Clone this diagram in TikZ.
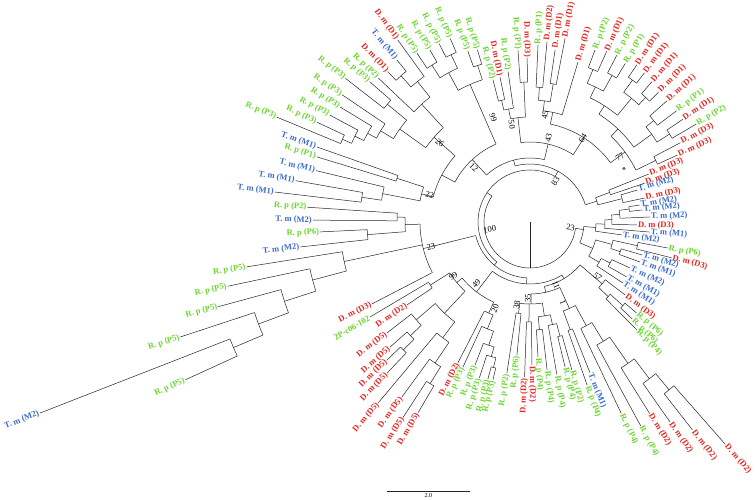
\documentclass[tikz,border=0pt]{standalone}
\usepackage{fontspec}
\setmainfont{Liberation Serif}
\usepackage{xcolor}
\usepackage{tikz}
\usetikzlibrary{calc}
\definecolor{dmred}{RGB}{226,38,32}
\definecolor{rpgreen}{RGB}{108,214,48}
\definecolor{tmblue}{RGB}{58,108,206}
\tikzset{
    br/.style={draw=black!85, line width=0.5pt},
    lbl/.style={font=\bfseries\fontsize{8.5}{9}\selectfont, inner sep=1pt},
    bsv/.style={font=\fontsize{8.5}{9}\selectfont, inner sep=0pt},
}
% leaf: angle, parent radius, tip radius, colour, text
\newcommand{\leafAt}[5]{%
    \draw[br] (#1:#2) -- (#1:#3);
    \pgfmathtruncatemacro{\leafside}{cos(#1)>=0}%
    \ifnum\leafside=1
        \node[lbl, text=#4, anchor=west, rotate=#1] at (#1:#3) {#5};
    \else
        \pgfmathsetmacro{\leafrot}{#1-180}%
        \node[lbl, text=#4, anchor=east, rotate=\leafrot] at (#1:#3) {#5};
    \fi}
% clade: first angle, last angle, radius, stem angle, parent radius
\newcommand{\cladeArc}[5]{%
    \draw[br] (#1:#3) arc[start angle=#1, end angle=#2, radius=#3];
    \draw[br] (#4:#5) -- (#4:#3);}
\newcommand{\leafDm}[4]{\leafAt{#1}{#2}{#3}{dmred}{D. m (D#4)}}
\newcommand{\leafRp}[4]{\leafAt{#1}{#2}{#3}{rpgreen}{R. p (P#4)}}
\newcommand{\leafTm}[4]{\leafAt{#1}{#2}{#3}{tmblue}{T. m (M#4)}}
% bootstrap value: angle, radius, text
\newcommand{\bootVal}[3]{%
    \pgfmathtruncatemacro{\bootside}{cos(#1)>=0}%
    \ifnum\bootside=1
        \node[bsv, rotate=#1] at (#1:#2) {#3};
    \else
        \pgfmathsetmacro{\bootrot}{#1-180}%
        \node[bsv, rotate=\bootrot] at (#1:#2) {#3};
    \fi}

\begin{document}
\begin{tikzpicture}[x=1pt, y=1pt]
    \fill[white] (-530,-278) rectangle (226,222);
    \useasboundingbox (-530,-278) rectangle (226,222);
    % root
    \draw[br] (0,0) -- (270:46);
    \draw[br] (145.75:46) arc[start angle=145.75, end angle=352, radius=46];
    \cladeArc{61.1}{230.4}{52}{145.75}{46}
    % right cluster (23)
    \cladeArc{-22.75}{-4.8}{54}{-8}{46}
    \cladeArc{-8}{-1.6}{66}{-4.8}{54}
    \leafTm{-8}{66}{93}{2}
    \cladeArc{-4.8}{1.65}{75}{-1.6}{66}
    \leafTm{-4.8}{75}{120}{1}
    \cladeArc{-1.6}{4.9}{82}{1.65}{75}
    \leafDm{-1.6}{82}{107}{3}
    \cladeArc{2.4}{7.45}{90}{4.9}{82}
    \leafTm{2.4}{90}{120}{2}
    \cladeArc{6.1}{8.8}{100}{7.45}{90}
    \leafTm{6.1}{100}{113}{2}
    \leafTm{8.8}{100}{111}{2}
    \cladeArc{-30.2}{-15.3}{68}{-22.75}{54}
    \cladeArc{-18.2}{-12.45}{85}{-15.3}{68}
    \cladeArc{-14.2}{-10.7}{110}{-12.45}{85}
    \leafRp{-10.7}{110}{140}{6}
    \leafDm{-14.2}{110}{146}{3}
    \cladeArc{-20}{-16.4}{95}{-18.2}{85}
    \leafTm{-16.4}{95}{117}{2}
    \leafTm{-20}{95}{117}{1}
    \cladeArc{-33.3}{-27.15}{80}{-30.2}{68}
    \leafTm{-33.3}{80}{111}{1}
    \cladeArc{-29.6}{-24.7}{90}{-27.15}{80}
    \leafTm{-24.7}{90}{110}{2}
    \leafTm{-29.6}{90}{111}{1}
    % top (83)
    \cladeArc{17.3}{104.9}{58}{61.1}{52}
    \cladeArc{14.2}{20.35}{70}{17.3}{58}
    \cladeArc{18.7}{22}{85}{20.35}{70}
    \leafDm{22}{85}{128}{3}
    \leafDm{18.7}{85}{121}{3}
    \cladeArc{11.8}{16.6}{95}{14.2}{70}
    \leafTm{16.6}{95}{112}{2}
    \leafDm{11.8}{95}{117}{3}
    \cladeArc{76.95}{132.8}{64}{104.9}{58}
    \cladeArc{57.3}{96.6}{80}{76.95}{64}
    \cladeArc{36.35}{78.25}{100}{57.3}{80}
    \cladeArc{26.1}{46.6}{118}{36.35}{100}
    \cladeArc{24.4}{27.8}{140}{26.1}{118}
    \leafDm{24.4}{140}{162}{3}
    \leafDm{27.8}{140}{170}{3}
    \cladeArc{35.8}{57.4}{128}{46.6}{118}
    \cladeArc{32.2}{39.35}{150}{35.8}{128}
    \cladeArc{30.5}{33.9}{165}{32.2}{150}
    \leafRp{30.5}{165}{193}{2}
    \leafDm{33.9}{165}{184}{1}
    \cladeArc{37.2}{41.5}{160}{39.35}{150}
    \leafRp{37.2}{160}{184}{1}
    \leafDm{41.5}{160}{183}{1}
    \cladeArc{50.65}{64.15}{138}{57.4}{128}
    \cladeArc{47.15}{54.15}{160}{50.65}{138}
    \cladeArc{45.3}{49}{170}{47.15}{160}
    \leafDm{45.3}{170}{183}{1}
    \leafDm{49}{170}{186}{1}
    \cladeArc{52.5}{55.8}{175}{54.15}{160}
    \leafDm{52.5}{175}{188}{1}
    \leafDm{55.8}{175}{190}{1}
    \cladeArc{60.75}{67.55}{150}{64.15}{138}
    \cladeArc{59}{62.5}{168}{60.75}{150}
    \leafRp{59}{168}{185}{1}
    \leafRp{62.5}{168}{188}{2}
    \cladeArc{65.8}{69.3}{165}{67.55}{150}
    \leafDm{65.8}{165}{187}{1}
    \leafRp{69.3}{165}{184}{2}
    \cladeArc{73.3}{83.2}{112}{78.25}{100}
    \leafDm{73.3}{112}{167}{1}
    \cladeArc{80.45}{86}{122}{83.2}{112}
    \cladeArc{79.2}{81.7}{140}{80.45}{122}
    \leafDm{79.2}{140}{187}{1}
    \leafDm{81.7}{140}{174}{1}
    \cladeArc{84.6}{87.4}{135}{86}{122}
    \leafDm{84.6}{135}{181}{2}
    \leafRp{87.4}{135}{177}{1}
    \cladeArc{92.5}{100.7}{105}{96.6}{80}
    \cladeArc{91}{94}{140}{92.5}{105}
    \leafDm{91}{140}{164}{3}
    \leafRp{94}{140}{172}{1}
    \cladeArc{98.3}{103.15}{115}{100.7}{105}
    \leafRp{98.3}{115}{152}{2}
    \cladeArc{101.7}{104.6}{125}{103.15}{115}
    \leafDm{101.7}{125}{148}{1}
    \leafRp{104.6}{125}{147}{2}
    % upper left (12)
    \cladeArc{113.55}{152}{85}{132.8}{64}
    \cladeArc{108.5}{118.6}{150}{113.55}{85}
    \cladeArc{107}{110}{165}{108.5}{150}
    \leafRp{107}{165}{180}{5}
    \leafRp{110}{165}{182}{5}
    \cladeArc{115.25}{122}{170}{118.6}{150}
    \cladeArc{113.5}{117}{185}{115.25}{170}
    \leafRp{113.5}{185}{200}{5}
    \leafRp{117}{185}{200}{5}
    \cladeArc{120.2}{123.8}{185}{122}{170}
    \leafRp{120.2}{185}{199}{5}
    \leafRp{123.8}{185}{203}{5}
    \cladeArc{138.55}{165.45}{100}{152}{85}
    \cladeArc{132.6}{144.5}{128}{138.55}{100}
    \cladeArc{128.7}{136.5}{160}{132.6}{128}
    \cladeArc{126}{131.4}{180}{128.7}{160}
    \leafDm{126}{180}{225}{1}
    \cladeArc{129.4}{133.4}{195}{131.4}{180}
    \leafTm{129.4}{195}{210}{1}
    \leafDm{133.4}{195}{207}{1}
    \leafRp{136.5}{160}{209}{2}
    \cladeArc{140.45}{148.6}{160}{144.5}{128}
    \cladeArc{138.8}{142.1}{185}{140.45}{160}
    \leafRp{138.8}{185}{213}{3}
    \leafRp{142.1}{185}{234}{3}
    \cladeArc{145.9}{151.35}{175}{148.6}{160}
    \leafRp{145.9}{175}{227}{3}
    \cladeArc{148.8}{153.9}{185}{151.35}{175}
    \leafRp{148.8}{185}{222}{3}
    \cladeArc{151.9}{156.2}{195}{153.9}{185}
    \leafRp{151.9}{195}{227}{3}
    \cladeArc{154.9}{157.5}{205}{156.2}{195}
    \leafRp{154.9}{205}{235}{3}
    \leafRp{157.5}{205}{274}{3}
    \cladeArc{161.8}{169.1}{112}{165.45}{100}
    \cladeArc{160.6}{163}{140}{161.8}{112}
    \leafTm{160.6}{140}{226}{1}
    \leafRp{163}{140}{223}{1}
    \cladeArc{166.5}{171.65}{150}{169.1}{112}
    \leafTm{166.5}{150}{220}{1}
    \cladeArc{170}{173.3}{170}{171.65}{150}
    \leafTm{170}{170}{238}{1}
    \leafTm{173.3}{170}{257}{1}
    % lower half
    \cladeArc{194}{266.8}{56}{230.4}{52}
    \cladeArc{181.15}{207.4}{110}{194}{56}
    \cladeArc{177.85}{184.45}{125}{181.15}{110}
    \cladeArc{176.2}{179.5}{133}{177.85}{125}
    \leafRp{176.2}{133}{223}{2}
    \leafTm{179.5}{133}{217}{2}
    \cladeArc{182.7}{186.2}{163}{184.45}{125}
    \leafRp{182.7}{163}{210}{6}
    \leafTm{186.2}{163}{231}{2}
    \cladeArc{189}{194.95}{190}{192}{110}
    \leafRp{189}{190}{287}{5}
    \cladeArc{192}{197.9}{225}{194.95}{190}
    \leafRp{192}{225}{309}{5}
    \cladeArc{195.2}{200.6}{258}{197.9}{225}
    \leafRp{195.2}{258}{323}{5}
    \cladeArc{198.2}{202.95}{290}{200.6}{258}
    \leafRp{198.2}{290}{368}{5}
    \cladeArc{201.3}{204.6}{322}{202.95}{290}
    \leafTm{201.3}{322}{526}{2}
    \leafRp{204.6}{322}{379}{5}
    \leafDm{207.4}{110}{178}{3}
    \cladeArc{232.6}{301}{62}{266.8}{56}
    \cladeArc{219.6}{245.6}{88}{232.6}{62}
    \cladeArc{212.35}{226.85}{95}{219.6}{88}
    \cladeArc{210.7}{214}{118}{212.35}{95}
    \leafAt{210.7}{118}{186}{rpgreen}{2P-c06-102}
    \leafDm{214}{118}{148}{2}
    \cladeArc{220.7}{233}{125}{226.85}{95}
    \cladeArc{217.8}{223.55}{150}{220.7}{125}
    \leafDm{217.8}{150}{181}{5}
    \cladeArc{221.8}{225.3}{165}{223.55}{150}
    \leafDm{221.8}{165}{188}{5}
    \cladeArc{224}{226.6}{180}{225.3}{165}
    \leafDm{224}{180}{199}{5}
    \leafDm{226.6}{180}{208}{5}
    \cladeArc{230}{236.05}{145}{233}{125}
    \leafDm{230}{145}{236}{5}
    \cladeArc{233.8}{238.3}{170}{236.05}{145}
    \leafDm{233.8}{170}{217}{5}
    \cladeArc{237}{239.6}{190}{238.3}{170}
    \leafDm{237}{190}{233}{5}
    \leafDm{239.6}{190}{221}{5}
    \cladeArc{242.9}{248.3}{100}{245.6}{88}
    \leafDm{242.9}{100}{158}{2}
    \cladeArc{245.2}{251.5}{115}{248.3}{100}
    \leafRp{245.2}{115}{160}{3}
    \cladeArc{249}{253.95}{130}{251.5}{115}
    \leafRp{249}{130}{153}{3}
    \cladeArc{252}{255.9}{140}{253.95}{130}
    \leafRp{252}{140}{164}{3}
    \cladeArc{255}{256.8}{150}{255.9}{140}
    \leafRp{255}{150}{163}{3}
    \leafRp{256.8}{150}{162}{3}
    \cladeArc{282.65}{319.4}{66}{301}{62}
    \cladeArc{270.8}{294.5}{72}{282.65}{66}
    \cladeArc{262.85}{278.7}{82}{270.8}{72}
    \cladeArc{261.3}{264.4}{92}{262.85}{82}
    \leafRp{261.3}{92}{153}{2}
    \leafRp{264.4}{92}{134}{6}
    \cladeArc{268}{270.8}{100}{269.4}{82}
    \leafDm{268}{100}{155}{2}
    \leafDm{270.8}{100}{143}{2}
    \cladeArc{275}{282.35}{95}{278.7}{82}
    \cladeArc{273.4}{276.6}{108}{275}{95}
    \leafRp{273.4}{108}{135}{4}
    \leafRp{276.6}{108}{149}{4}
    \cladeArc{280}{284.7}{105}{282.35}{95}
    \leafRp{280}{105}{155}{4}
    \cladeArc{283.6}{285.8}{118}{284.7}{105}
    \leafRp{283.6}{118}{149}{4}
    \leafRp{285.8}{118}{154}{2}
    \cladeArc{290.5}{298.5}{95}{294.5}{72}
    \cladeArc{289.3}{291.7}{115}{290.5}{95}
    \leafRp{289.3}{115}{173}{4}
    \leafTm{291.7}{115}{162}{1}
    \cladeArc{295.5}{301.6}{118}{298.5}{95}
    \leafRp{295.5}{118}{212}{4}
    \cladeArc{298.5}{304.7}{140}{301.6}{118}
    \leafRp{298.5}{140}{232}{4}
    \cladeArc{302}{307.3}{172}{304.7}{140}
    \leafDm{302}{172}{226}{2}
    \cladeArc{305}{309.65}{197}{307.3}{172}
    \leafDm{305}{197}{244}{2}
    \cladeArc{308}{311.3}{218}{309.65}{197}
    \leafDm{308}{218}{264}{2}
    \leafDm{311.3}{218}{296}{2}
    \cladeArc{316.35}{322.5}{95}{319.4}{66}
    \leafDm{322.5}{95}{120}{3}
    \cladeArc{314.7}{318}{108}{316.35}{95}
    \leafRp{314.7}{108}{152}{4}
    \cladeArc{316.5}{319.5}{125}{318}{108}
    \leafRp{316.5}{125}{141}{6}
    \leafRp{319.5}{125}{140}{6}
    % bootstrap values
    \bootVal{190.5}{41}{100}
    \bootVal{58}{48}{83}
    \bootVal{-8}{41}{23}
    \bootVal{138.7}{120}{26}
    \bootVal{164.9}{104}{22}
    \bootVal{194}{102}{23}
    \bootVal{136}{78}{12}
    \bootVal{109.4}{111}{99}
    \bootVal{100.5}{99}{50}
    \bootVal{82}{108}{45}
    \bootVal{77.6}{86}{43}
    \bootVal{57.8}{99}{64}
    \bootVal{35.8}{111}{77}
    \bootVal{28.7}{108}{*}
    \bootVal{321}{87}{57}
    \bootVal{292.6}{68}{11}
    \bootVal{292.4}{87}{1}
    \bootVal{268.5}{76}{35}
    \bootVal{261}{84}{38}
    \bootVal{248}{93}{20}
    \bootVal{229}{82}{49}
    \bootVal{215.2}{94}{99}
    % scale bar
    \coordinate (sbL) at (-143,-269);
    \coordinate (sbR) at (-60,-269);
    \draw[br] (sbL) -- (sbR);
    \node[bsv, font=\fontsize{6}{7}\selectfont, below=2pt] (sbT) at ($(sbL)!0.5!(sbR)$) {2.0};
\end{tikzpicture}
\end{document}
